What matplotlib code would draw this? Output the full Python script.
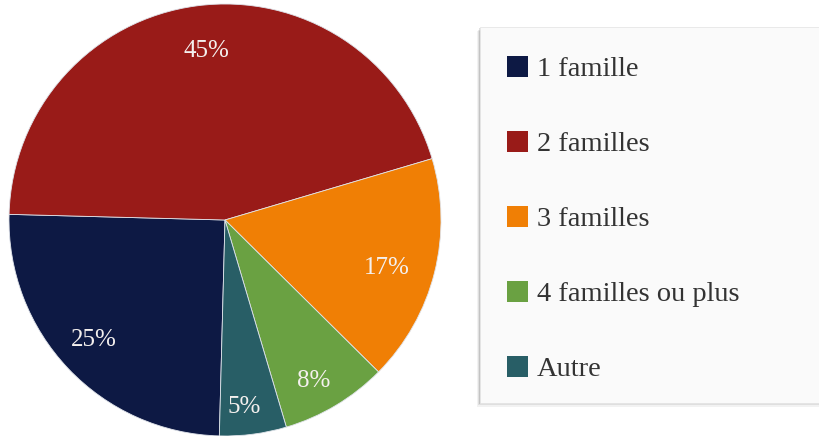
import numpy as np
import matplotlib
matplotlib.use("Agg")
import matplotlib.pyplot as plt
from matplotlib.patches import Rectangle

labels = ["1 famille", "2 familles", "3 familles", "4 familles ou plus", "Autre"]
shares = [25, 45, 17, 8, 5]
colors = ["#0d1944", "#991b18", "#f07f05", "#6aa142", "#285e66"]
# radial placement of each percentage label (fraction of radius)
label_dist = [0.815, 0.80, 0.78, 0.84, 0.86]

plt.rcParams["font.family"] = ["Liberation Serif", "DejaVu Serif"]

fig = plt.figure(figsize=(8.19, 4.36), dpi=100)
fig.patch.set_facecolor("white")

ax = fig.add_axes([9 / 819, 0.0, 432 / 819, 432 / 436])
wedges, texts = ax.pie(shares, colors=colors, startangle=268.5, counterclock=False,
                       radius=1.0, wedgeprops=dict(edgecolor="#dfe3ea", linewidth=0.6))
ax.set_xlim(-1, 1)
ax.set_ylim(-1, 1)
ax.set_aspect("equal")

for w, val, d in zip(wedges, shares, label_dist):
    ang = np.deg2rad((w.theta1 + w.theta2) / 2 - 1.5)
    ax.text(d * np.cos(ang), d * np.sin(ang) - 0.012, f"{val}%", color="#f4f0ee",
            fontsize=18, ha="center", va="center")

# legend panel with soft shadow
for i, a in enumerate([0.05, 0.08, 0.12]):
    off = (3 - i) / 819
    fig.patches.append(Rectangle((480 / 819 - off, 0.076 - (3 - i) * 1.3 / 436),
                                 0.6, 0.862, transform=fig.transFigure,
                                 facecolor="black", alpha=a, edgecolor="none", zorder=0))
fig.patches.append(Rectangle((480 / 819, 0.076), 0.6, 0.862, transform=fig.transFigure,
                             facecolor="#fafafa", edgecolor="#e6e6e6", linewidth=0.6, zorder=1))

leg = fig.legend(wedges, labels, loc="upper left",
                 bbox_to_anchor=(507 / 819, 1 - 56 / 436),
                 frameon=False, fontsize=20.5, handlelength=0.74, handleheight=0.74,
                 handletextpad=0.32, labelspacing=1.71, borderpad=0, borderaxespad=0)
for t in leg.get_texts():
    t.set_color("#333333")
for h in leg.legend_handles:
    h.set_edgecolor("none")

fig.savefig("out.png", dpi=100)
